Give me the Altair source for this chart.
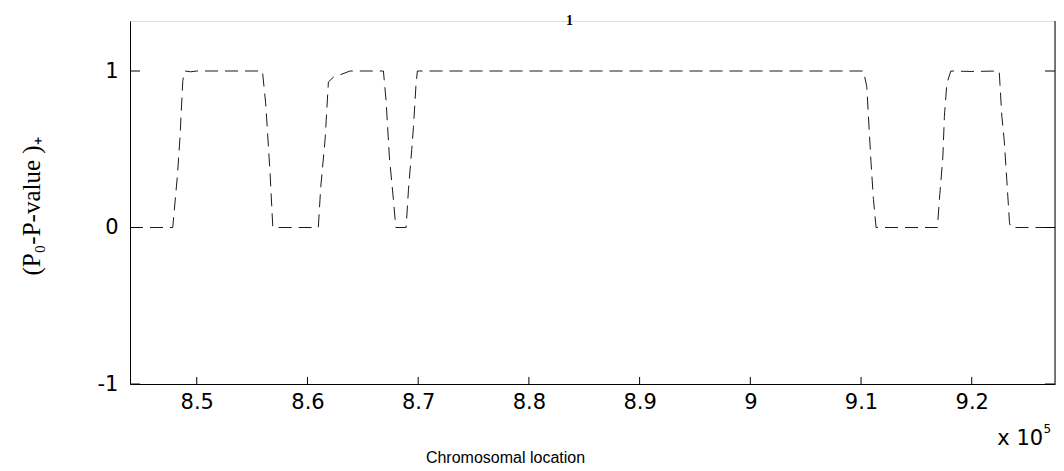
import altair as alt
import pandas as pd

# chromosomal location in units of 1e5
xs = [8.4397, 8.4783, 8.4825, 8.4849, 8.4874, 8.4894, 8.4945, 8.5000, 8.5593, 8.5623,
      8.5662, 8.5687, 8.6098, 8.6120, 8.6159, 8.6189, 8.6234, 8.6385, 8.6686, 8.6710,
      8.6740, 8.6776, 8.6798, 8.6891, 8.6912, 8.6942, 8.6957, 8.6981, 8.6993, 9.1022,
      9.1052, 9.1067, 9.1089, 9.1112, 9.1136, 9.1690, 9.1708, 9.1739, 9.1753, 9.1775,
      9.1811, 9.2000, 9.2248, 9.2272, 9.2293, 9.2317, 9.2341, 9.2353, 9.2752]
ys = [0, 0, 0.33, 0.58, 0.94, 1, 0.995, 1, 1, 0.79,
      0.35, 0, 0, 0.26, 0.56, 0.93, 0.96, 1, 1, 0.81,
      0.45, 0.18, 0, 0, 0.24, 0.5, 0.64, 0.92, 1, 1,
      0.9, 0.71, 0.43, 0.18, 0, 0, 0.18, 0.45, 0.71, 0.92,
      1, 0.997, 1, 0.71, 0.56, 0.3, 0.03, 0, 0]

x_ticks = [8.5, 8.6, 8.7, 8.8, 8.9, 9.0, 9.1, 9.2]
y_ticks = [-1, 0, 1]
x_domain = [8.4397, 9.2752]
y_domain = [-1, 1.3195]

W, H = 925, 363
sans = "DejaVu Sans"
serif = "Liberation Serif"

df = pd.DataFrame({"x": xs, "y": ys})

xscale = alt.Scale(domain=x_domain, nice=False, zero=False)
yscale = alt.Scale(domain=y_domain, nice=False, zero=False)

line = alt.Chart(df).mark_line(
    color="#1a1a1a", strokeWidth=1, strokeDash=[13, 7]
).encode(
    x=alt.X("x:Q", scale=xscale, axis=alt.Axis(
        values=x_ticks, labelExpr="'' + datum.value", grid=False, ticks=False,
        domainColor="black", domainWidth=1, labelFont=sans, labelFontSize=21,
        labelColor="black", labelPadding=7,
        title="Chromosomal location", titleFont="Liberation Sans", titleFontSize=16,
        titleFontWeight="normal", titleColor="black", titleX=375, titleY=73,
        titleBaseline="middle", titleAnchor="middle")),
    y=alt.Y("y:Q", scale=yscale, axis=alt.Axis(
        values=y_ticks, labelExpr="'' + datum.value", grid=False, ticks=False,
        domainColor="black", domainWidth=1, labelFont=sans, labelFontSize=21,
        labelColor="black", labelPadding=12,
        title="(P₀-P-value )₊", titleFont=serif, titleFontSize=25,
        titleFontWeight="normal", titleColor="black", titleX=-99, titleY=185,
        titleAngle=-90, titleBaseline="middle", titleAnchor="middle")),
)

# inward ticks
xt = pd.DataFrame({"x": x_ticks, "y": [y_domain[0]] * len(x_ticks),
                   "y2": [y_domain[0] + 0.045] * len(x_ticks)})
xtick = alt.Chart(xt).mark_rule(color="black", strokeWidth=1).encode(
    x=alt.X("x:Q", scale=xscale), y=alt.Y("y:Q", scale=yscale), y2="y2:Q")

ytl = pd.DataFrame({"y": y_ticks, "x": [x_domain[0]] * 3, "x2": [x_domain[0] + 0.009] * 3})
ytr = pd.DataFrame({"y": y_ticks, "x": [x_domain[1] - 0.009] * 3, "x2": [x_domain[1]] * 3})
ytick_l = alt.Chart(ytl).mark_rule(color="black", strokeWidth=1).encode(
    y=alt.Y("y:Q", scale=yscale), x=alt.X("x:Q", scale=xscale), x2="x2:Q")
ytick_r = alt.Chart(ytr).mark_rule(color="black", strokeWidth=1).encode(
    y=alt.Y("y:Q", scale=yscale), x=alt.X("x:Q", scale=xscale), x2="x2:Q")

# right frame line
rf = pd.DataFrame({"x": [x_domain[1]], "y": [y_domain[0]], "y2": [y_domain[1]]})
right = alt.Chart(rf).mark_rule(color="black", strokeWidth=1).encode(
    x=alt.X("x:Q", scale=xscale), y=alt.Y("y:Q", scale=yscale), y2="y2:Q")

# exponent annotation
ex = pd.DataFrame({"x": [9.2645], "y": [-1.39], "t": ["x 10"]})
exp_text = alt.Chart(ex).mark_text(
    align="right", baseline="alphabetic", font=sans, fontSize=21, color="black"
).encode(x=alt.X("x:Q", scale=xscale), y=alt.Y("y:Q", scale=yscale), text="t:N")
ex5 = pd.DataFrame({"x": [9.2648], "y": [-1.313], "t": ["5"]})
exp5 = alt.Chart(ex5).mark_text(
    align="left", baseline="alphabetic", font=sans, fontSize=12, color="black"
).encode(x=alt.X("x:Q", scale=xscale), y=alt.Y("y:Q", scale=yscale), text="t:N")

chart = alt.layer(line, xtick, ytick_l, ytick_r, right, exp_text, exp5).properties(
    width=W, height=H,
    title=alt.TitleParams(text="1", font=serif, fontWeight="bold", fontSize=14,
                          color="black", offset=-7, dx=-23),
    autosize=alt.AutoSizeParams(type="none"),
    padding={"left": 122, "top": 13, "right": 1, "bottom": 85},
).configure_view(stroke=None).configure(background="white")

chart.save("out.html", embed_options={"renderer": "svg", "actions": False})
